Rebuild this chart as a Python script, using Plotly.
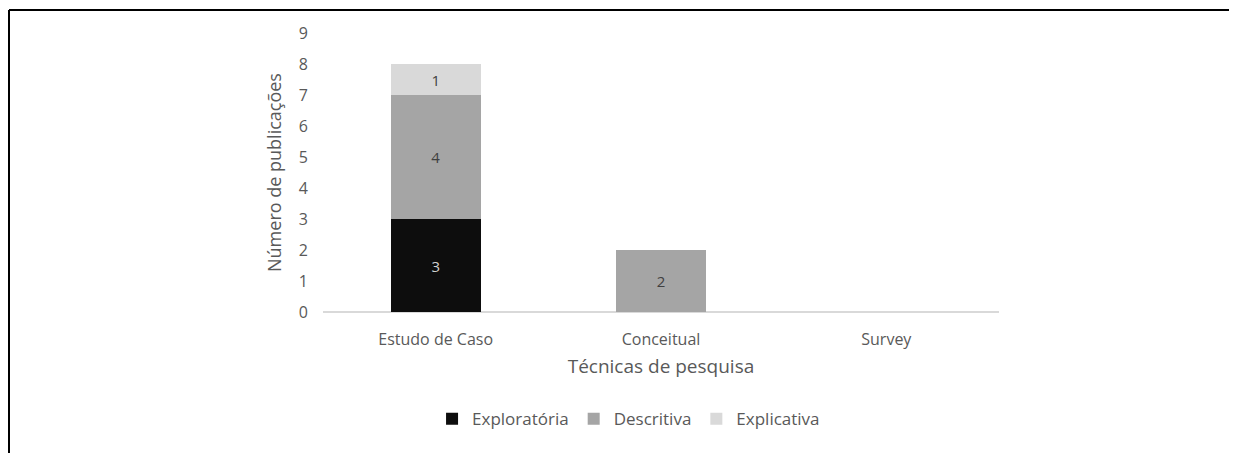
import plotly.graph_objects as go

# Data
categorias = ['Estudo de Caso', 'Conceitual', 'Survey']
exploratoria = [3, 0, 0]
descritiva = [4, 2, 0]
explicativa = [1, 0, 0]

FONT = 'Open Sans, Lato, sans-serif'
TEXT_GRAY = '#595959'

# page body has an 8px margin, so keep the figure inside the window
W, H = 1221, 445
ML, MR, MT, MB = 315, 230, 25, 141


def labels(vals):
    return [str(v) if v else '' for v in vals]


fig = go.Figure()
series = [
    ('Exploratória', exploratoria, '#0d0d0d', '#d0d0d0'),
    ('Descritiva', descritiva, '#a5a5a5', '#404040'),
    ('Explicativa', explicativa, '#d9d9d9', '#404040'),
]
for name, vals, color, tcolor in series:
    fig.add_trace(go.Bar(
        x=categorias,
        y=vals,
        name=name,
        text=labels(vals),
        textposition='inside',
        insidetextanchor='middle',
        textangle=0,
        textfont=dict(size=15, color=tcolor, family=FONT),
        marker=dict(color=color, line=dict(width=0)),
    ))

# frame lines of the original figure (top and left edge)
pw, ph = W - ML - MR, H - MT - MB
x_left = (1 - ML) / pw
x_right = (W - ML) / pw
y_top = (H - MB - 2) / ph
y_bot = (H - MB - H) / ph
fig.add_shape(type='line', xref='paper', yref='paper', x0=x_left, x1=x_right,
              y0=y_top, y1=y_top, line=dict(color='#000000', width=2))
fig.add_shape(type='line', xref='paper', yref='paper', x0=x_left, x1=x_left,
              y0=y_top, y1=y_bot, line=dict(color='#000000', width=2))

fig.update_layout(
    width=W,
    height=H,
    barmode='stack',
    bargap=0.6,
    plot_bgcolor='#FFFFFF',
    paper_bgcolor='#FFFFFF',
    font=dict(family=FONT, size=16, color=TEXT_GRAY),
    margin=dict(l=ML, r=MR, t=MT, b=MB),
    xaxis=dict(
        title=dict(text='Técnicas de pesquisa', font=dict(size=19, color=TEXT_GRAY), standoff=10),
        showgrid=False,
        showline=False,
        ticks='',
        ticklabelstandoff=16,
        tickfont=dict(size=16, color=TEXT_GRAY),
        zeroline=False,
    ),
    yaxis=dict(
        title=dict(text='Número de publicações', font=dict(size=18, color=TEXT_GRAY), standoff=12),
        range=[0, 9],
        dtick=1,
        showgrid=False,
        showline=False,
        zeroline=True,
        zerolinecolor='#d9d9d9',
        zerolinewidth=2,
        ticks='',
        ticklabelstandoff=14,
        tickfont=dict(size=16, color=TEXT_GRAY),
    ),
    legend=dict(
        orientation='h',
        x=0.452,
        xanchor='center',
        y=-0.384,
        yanchor='middle',
        font=dict(size=17, color=TEXT_GRAY),
        itemwidth=30,
        traceorder='normal',
    ),
)

fig.write_html('out.html')
